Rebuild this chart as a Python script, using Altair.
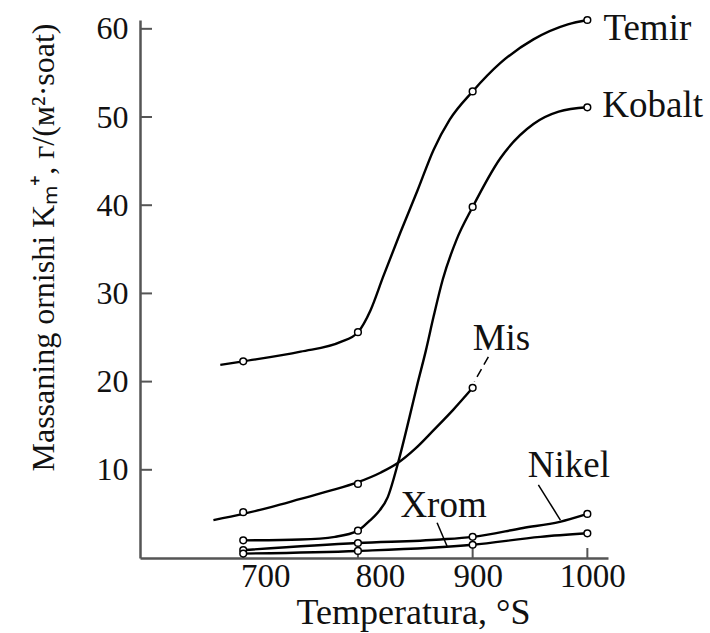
import altair as alt
import pandas as pd

# ---- data ----
temps = [700, 800, 900, 1000]
temir_pts = [22.3, 25.6, 52.9, 61.0]
kobalt_pts = [2.0, 3.1, 39.8, 51.1]
mis_temps = [700, 800, 900]
mis_pts = [5.2, 8.4, 19.3]
nikel_pts = [0.9, 1.7, 2.4, 5.0]
xrom_pts = [0.5, 0.8, 1.5, 2.8]

# traced points along the drawn curves
temir_cx = [680, 700, 750, 785, 800, 811, 822, 837, 852, 866, 880, 900, 924, 953, 983, 1000]
temir_cy = [21.9, 22.3, 23.4, 24.5, 25.6, 28.1, 31.9, 36.9, 41.7, 46.3, 49.7, 52.9, 56.1, 58.8, 60.5, 61.0]
kobalt_cx = [700, 750, 780, 800, 810, 817, 826, 835, 845, 852, 859, 866, 874, 886, 900, 924, 953, 975, 1000]
kobalt_cy = [2.0, 2.1, 2.4, 3.1, 4.2, 5.1, 6.9, 10.8, 16.0, 19.8, 23.4, 27.4, 31.6, 36.1, 39.8, 45.3, 49.2, 50.6, 51.1]
mis_cx = [674, 700, 725, 750, 775, 800, 820, 835, 850, 866, 883, 900]
mis_cy = [4.3, 5.0, 5.8, 6.7, 7.6, 8.6, 9.7, 10.8, 12.4, 14.5, 16.8, 19.3]
nikel_cx = [700, 800, 872, 900, 944, 976, 1000]
nikel_cy = [0.9, 1.7, 2.1, 2.4, 3.4, 4.1, 5.0]
xrom_cx = [700, 800, 900, 959, 1000]
xrom_cy = [0.5, 0.8, 1.5, 2.4, 2.8]

series_names = ["Temir", "Kobalt", "Mis", "Nikel", "Xrom"]
label_x = [1014, 1013, 900, 948, 837]
label_y = [58.7, 50.0, 23.6, 9.2, 4.65]

x_ticks = [700, 800, 900, 1000]
y_ticks = [10, 20, 30, 40, 50, 60]

# ---- tables ----
curves = []
for name, xs, ys in [("Temir", temir_cx, temir_cy), ("Kobalt", kobalt_cx, kobalt_cy),
                     ("Mis", mis_cx, mis_cy), ("Nikel", nikel_cx, nikel_cy),
                     ("Xrom", xrom_cx, xrom_cy)]:
    for i, (a, b) in enumerate(zip(xs, ys)):
        curves.append({"series": name, "x": a, "y": b, "o": i})
curves = pd.DataFrame(curves)

pts = []
for name, xs, ys in [("Temir", temps, temir_pts), ("Kobalt", temps, kobalt_pts),
                     ("Mis", mis_temps, mis_pts), ("Nikel", temps, nikel_pts),
                     ("Xrom", temps, xrom_pts)]:
    for a, b in zip(xs, ys):
        pts.append({"series": name, "x": a, "y": b})
pts = pd.DataFrame(pts)

labels = pd.DataFrame({"text": series_names, "x": label_x, "y": label_y})

leaders = pd.DataFrame({
    "x": [957.3, 869.0], "y": [8.3, 4.0],
    "x2": [976.5, 878.0], "y2": [4.3, 1.25],
})
mis_leader = pd.DataFrame({"x": [913.7], "y": [22.8], "x2": [901.5], "y2": [20.0]})

yt = pd.DataFrame({"y": y_ticks})
xt = pd.DataFrame({"x": x_ticks})

FONT = "Liberation Serif"
AXC = "#555555"
TXT = "#111111"

xscale = alt.Scale(domain=[610, 1018], nice=False, zero=False)
yscale = alt.Scale(domain=[0, 61], nice=False, zero=False)

X = alt.X("x:Q", scale=xscale, axis=alt.Axis(
    values=x_ticks, format="d", grid=False, ticks=False, tickSize=0,
    domainColor=AXC, domainWidth=2.5,
    labelFont=FONT, labelFontSize=33, labelColor=TXT, labelPadding=28,
    labelBaseline="alphabetic",
    labelOffset={"condition": {"test": "datum.value < 850", "value": 22}, "value": 5},
    title="Temperatura, °S", titleFont=FONT, titleFontSize=36, titleFontWeight="normal",
    titleColor=TXT, titleX=273, titleY=65, titleAlign="center",
    titleBaseline="alphabetic"))
Y = alt.Y("y:Q", scale=yscale, axis=alt.Axis(
    values=y_ticks, grid=False, ticks=False, tickSize=0,
    domainColor=AXC, domainWidth=2.5,
    labelFont=FONT, labelFontSize=32, labelColor=TXT, labelPadding=12,
    labelBaseline="middle",
    title="Massaning ornishi Kₘ⁺, г/(м²·soat)", titleFont=FONT, titleFontSize=32,
    titleFontWeight="normal", titleColor=TXT, titleX=-97, titleY=227,
    titleAngle=270, titleAlign="center", titleBaseline="middle"))

lines = alt.Chart(curves).mark_line(color="black", strokeWidth=2.4, interpolate="monotone").encode(
    x=X, y=Y, detail="series:N", order="o:Q")

points = alt.Chart(pts).mark_point(shape="circle", filled=True, fill="white", stroke="black",
                                   strokeWidth=1.5, size=45, opacity=1).encode(x=X, y=Y)

ytick_marks = alt.Chart(yt).mark_rule(color=AXC, strokeWidth=2).encode(
    y=Y, x=alt.value(0), x2=alt.value(12))
xtick_marks = alt.Chart(xt).mark_rule(color=AXC, strokeWidth=2).encode(
    x=X, y=alt.value(538), y2=alt.value(528))

lead = alt.Chart(leaders).mark_rule(color="black", strokeWidth=1.5).encode(
    x=X, y=Y, x2="x2:Q", y2="y2:Q")
lead_mis = alt.Chart(mis_leader).mark_rule(color="black", strokeWidth=1.5, strokeDash=[9, 5]).encode(
    x=X, y=Y, x2="x2:Q", y2="y2:Q")

text = alt.Chart(labels).mark_text(font=FONT, fontSize=37, align="left", baseline="alphabetic",
                                   color=TXT).encode(x=X, y=Y, text="text:N")

chart = alt.layer(ytick_marks, xtick_marks, lines, lead, lead_mis, points, text).properties(
    width=468, height=538,
    autosize=alt.AutoSizeParams(type="none"),
    padding={"left": 140, "top": 20, "right": 102, "bottom": 75},
    background="white",
).configure_view(stroke=None)

chart.save("out.html", embed_options={"renderer": "svg", "actions": False})
